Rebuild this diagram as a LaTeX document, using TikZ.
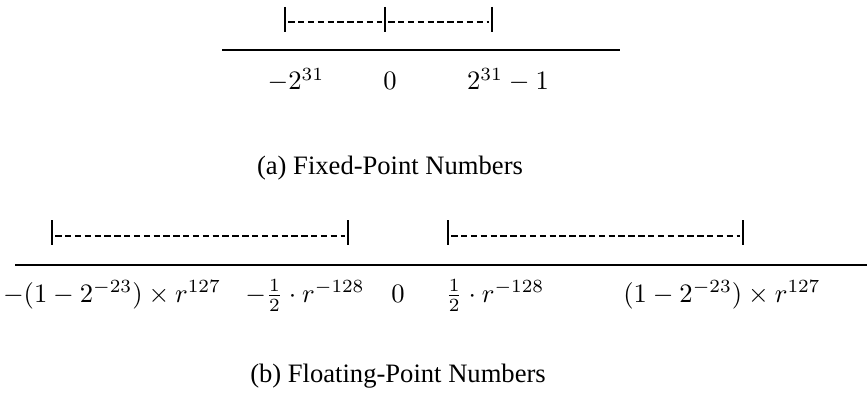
\documentclass[tikz,border=0pt]{standalone}
\usepackage[no-math]{fontspec}
\newfontfamily\capfont{Liberation Serif}
\usepackage{amsmath}
\usepackage{tikz}
\usetikzlibrary{positioning}

\tikzset{
  axisline/.style={line width=0.75pt},
  rangebar/.style={line width=0.45pt},
  rangedash/.style={line width=0.4pt, dash pattern=on 2.4pt off 1.3pt},
  numlabel/.style={anchor=base, inner sep=0pt},
  caption/.style={anchor=base, inner sep=0pt, font=\capfont}
}

\begin{document}
\begin{tikzpicture}[x=0.376pt, y=-0.376pt]
  \useasboundingbox (0,0) rectangle (867,400);

  % Fixed-point range marks
  \coordinate (fxa) at (285,22);
  \coordinate (fxb) at (385,22);
  \coordinate (fxc) at (492,22);
  \draw[rangedash] ([xshift=1.2pt]fxa) -- ([xshift=-1pt]fxb);
  \draw[rangedash] ([xshift=1.2pt]fxb) -- ([xshift=-1pt]fxc);
  \foreach \c in {fxa,fxb,fxc}
    \draw[rangebar] (\c) ++(0,-15) -- ++(0,25);

  % Fixed-point axis
  \coordinate (fxl) at (222,50);
  \coordinate (fxr) at (620,50);
  \draw[axisline] (fxl) -- (fxr);
  \node[numlabel] (fxmin)  at (296,90) {$-2^{31}$};
  \node[numlabel] (fxzero) at (390,90) {$0$};
  \node[numlabel] (fxmax)  at (508,90) {$2^{31}-1$};

  \node[caption] (capa) at (390,174) {(a) Fixed-Point Numbers};

  % Floating-point range marks
  \coordinate (fpa) at (52,236);
  \coordinate (fpb) at (348,236);
  \coordinate (fpc) at (448,236);
  \coordinate (fpd) at (743,236);
  \draw[rangedash] ([xshift=1.2pt]fpa) -- ([xshift=-1pt]fpb);
  \draw[rangedash] ([xshift=1.2pt]fpc) -- ([xshift=-1pt]fpd);
  \foreach \c in {fpa,fpb,fpc,fpd}
    \draw[rangebar] (\c) ++(0,-16) -- ++(0,25);

  % Floating-point axis
  \coordinate (fpl) at (15,265);
  \coordinate (fpr) at (867,265);
  \draw[axisline] (fpl) -- (fpr);
  \node[numlabel] (fpmin)   at (112,302) {$-(1-2^{-23})\times r^{127}$};
  \node[numlabel] (fpnmax)  at (305,302) {$-\frac{1}{2}\cdot r^{-128}$};
  \node[numlabel] (fpzero)  at (398,302) {$0$};
  \node[numlabel] (fppmin)  at (495,302) {$\frac{1}{2}\cdot r^{-128}$};
  \node[numlabel] (fpmax)   at (722,302) {$(1-2^{-23})\times r^{127}$};

  \node[caption] (capb) at (398,382) {(b) Floating-Point Numbers};
\end{tikzpicture}
\end{document}
